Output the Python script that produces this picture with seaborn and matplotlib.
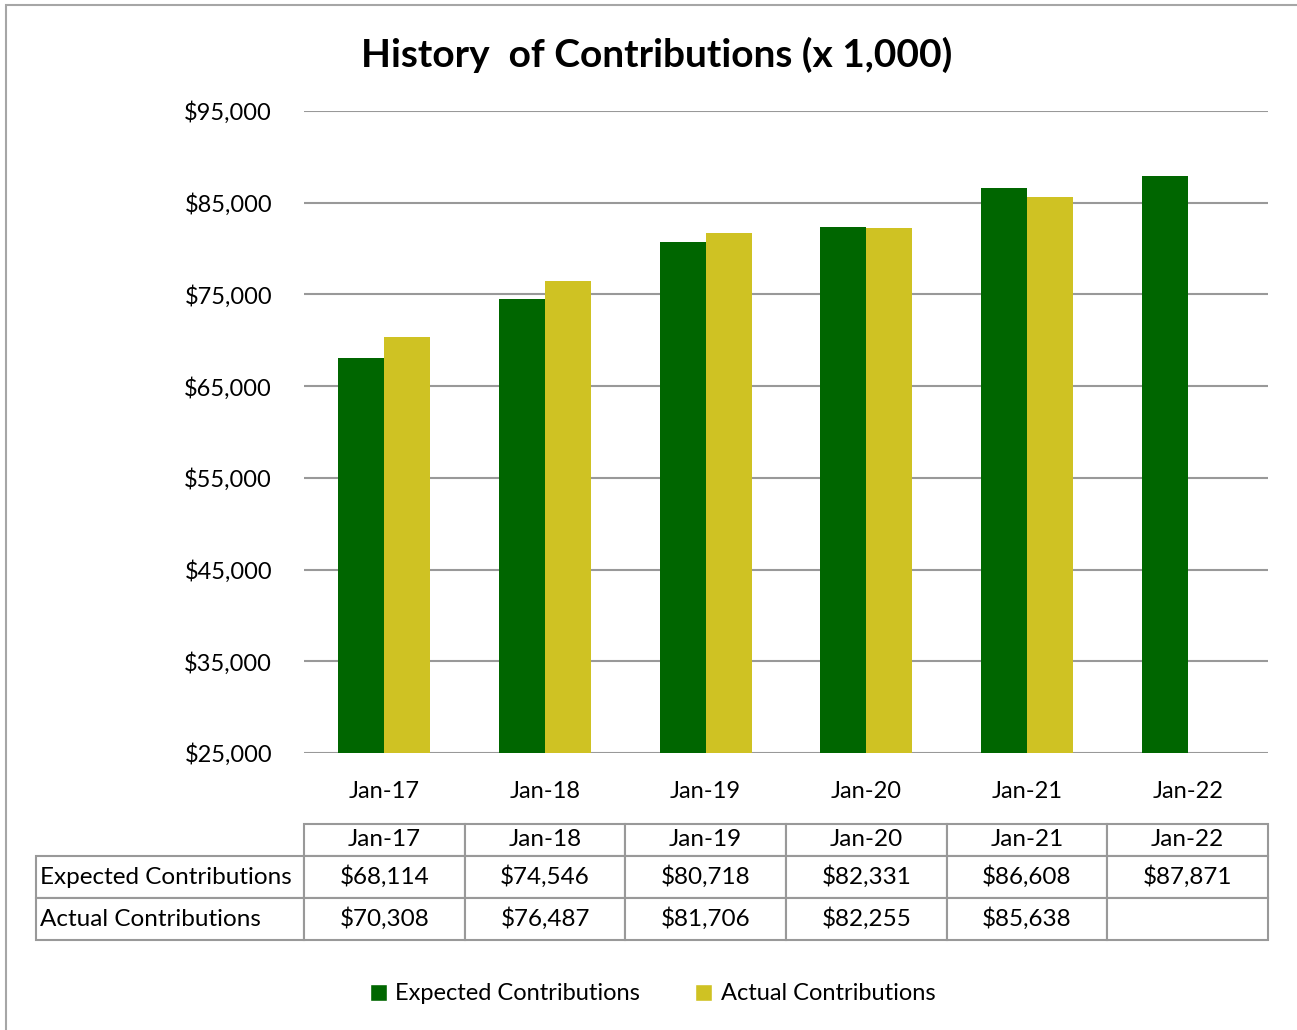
import pandas as pd
import matplotlib
matplotlib.use("Agg")
import matplotlib.pyplot as plt
import seaborn as sns
import numpy as np
from matplotlib.patches import Rectangle, Patch

# data
months = ["Jan-17", "Jan-18", "Jan-19", "Jan-20", "Jan-21", "Jan-22"]
expected = [68114, 74546, 80718, 82331, 86608, 87871]
actual = [70308, 76487, 81706, 82255, 85638, np.nan]
series_names = ["Expected Contributions", "Actual Contributions"]
y_ticks = [25000, 35000, 45000, 55000, 65000, 75000, 85000, 95000]

green = "#006600"
yellow = "#CFC223"
grey = "#999999"

df = pd.DataFrame({
    "month": months * 2,
    "value": expected + actual,
    "series": [series_names[0]] * len(months) + [series_names[1]] * len(months),
})

sns.set_theme(style="white")
plt.rcParams["font.family"] = ["Lato", "DejaVu Sans"]
plt.rcParams["text.color"] = "black"

fig = plt.figure(figsize=(12.97, 10.30), dpi=100)
ax = fig.add_axes([304 / 1297, 1 - 753 / 1030, (1268 - 304) / 1297, (753 - 111) / 1030])

sns.barplot(data=df, x="month", y="value", hue="series", order=months,
            hue_order=series_names, palette=[green, yellow], width=0.573,
            saturation=1, legend=False, ax=ax, linewidth=0)

ax.set_ylim(25000, 95000)
ax.set_yticks(y_ticks)
ax.set_yticklabels(["${:,}".format(v) for v in y_ticks], fontsize=17)
ax.tick_params(axis="y", length=0, pad=23, labelcolor="black")
ax.tick_params(axis="x", length=0, pad=20, labelsize=17, labelcolor="black")
ax.set_xlabel("")
ax.set_ylabel("")
ax.yaxis.grid(True, color=grey, linewidth=1.5)
ax.set_axisbelow(True)
for s in ax.spines.values():
    s.set_visible(False)

# data table under the chart
cell_text = [["${:,}".format(v) for v in expected],
             ["${:,}".format(int(v)) if not np.isnan(v) else "" for v in actual]]
tbl = ax.table(cellText=cell_text, rowLabels=series_names, colLabels=months,
               cellLoc="center", rowLoc="left",
               bbox=[0, (753 - 940) / 642, 1, (940 - 824) / 642])
tbl._autoColumns = []
tbl.auto_set_font_size(False)
tbl.set_fontsize(17.5)
for (r, c), cell in tbl.get_celld().items():
    cell.set_edgecolor(grey)
    cell.set_linewidth(1.5)
    cell.set_height(32 if r == 0 else 42)
    cell.get_text().set_color("black")
    if c == -1:
        cell.set_width(268 / 964)
        cell.PAD = 0.015
    else:
        cell.set_width(1 / 6)

# title
fig.text(0.506, 1 - 55 / 1030, "History  of Contributions (x 1,000)",
         ha="center", va="center", fontsize=28, fontweight="bold", color="black")

# legend
handles = [Patch(facecolor=green), Patch(facecolor=yellow)]
fig.legend(handles, series_names, loc="center", bbox_to_anchor=(0.503, 1 - 994 / 1030),
           ncol=2, frameon=False, fontsize=17, handlelength=0.75, handleheight=0.75,
           handletextpad=0.35, columnspacing=2.3)

# outer frame
fig.patches.append(Rectangle((6 / 1297, -0.02), 1.0, 1 - 5 / 1030 + 0.02,
                             transform=fig.transFigure, fill=False,
                             edgecolor="#a6a6a6", linewidth=1.5))

fig.savefig("out.png", dpi=100)
